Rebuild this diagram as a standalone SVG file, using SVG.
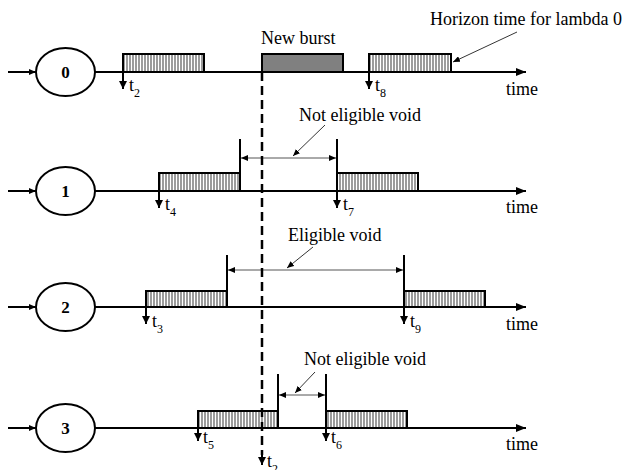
<svg xmlns="http://www.w3.org/2000/svg" width="624" height="470" viewBox="0 0 624 470">
<style>
.ax{stroke:#000;stroke-width:2;fill:none}
.nd{stroke:#000;stroke-width:2;fill:#fff}
.nl{font-family:"Liberation Serif",serif;font-size:17px;font-weight:bold;text-anchor:middle}
.tx{font-family:"Liberation Serif",serif;font-size:18px;fill:#000}
.sb{font-size:12px}
.hb{fill:url(#hatch);stroke:#000;stroke-width:2}
.bar{stroke:#000;stroke-width:2}
.dim{stroke:#555;stroke-width:1;fill:none}
.ptr{stroke:#000;stroke-width:0.8;fill:none}
</style>
<defs>
<pattern id="hatch" patternUnits="userSpaceOnUse" width="3" height="10">
<rect width="3" height="10" fill="#fff"/>
<line x1="1" y1="0" x2="1" y2="10" stroke="#666" stroke-width="1.3"/>
</pattern>
<marker id="ah" markerWidth="10" markerHeight="8" refX="10" refY="4" orient="auto" markerUnits="userSpaceOnUse">
<path d="M0,0 L10,4 L0,8 Z" fill="#000"/>
</marker>
<marker id="sm" markerWidth="7" markerHeight="6" refX="7" refY="3" orient="auto" markerUnits="userSpaceOnUse">
<path d="M0,0 L7,3 L0,6 Z" fill="#000"/>
</marker>
<marker id="dn" markerWidth="8" markerHeight="8" refX="8" refY="4" orient="auto" markerUnits="userSpaceOnUse">
<path d="M0,0 L8,4 L0,8 Z" fill="#000"/>
</marker>
</defs>

<g id="connectors">
<line class="ax" x1="8" y1="72" x2="36" y2="72" marker-end="url(#sm)"/>
<line class="ax" x1="95" y1="72" x2="526" y2="72" marker-end="url(#ah)"/>
<line class="ax" x1="8" y1="191" x2="36" y2="191" marker-end="url(#sm)"/>
<line class="ax" x1="95" y1="191" x2="526" y2="191" marker-end="url(#ah)"/>
<line class="ax" x1="8" y1="307" x2="36" y2="307" marker-end="url(#sm)"/>
<line class="ax" x1="95" y1="307" x2="526" y2="307" marker-end="url(#ah)"/>
<line class="ax" x1="8" y1="428" x2="36" y2="428" marker-end="url(#sm)"/>
<line class="ax" x1="95" y1="428" x2="526" y2="428" marker-end="url(#ah)"/>
</g>

<g id="node0">
<ellipse class="nd" cx="65.5" cy="72" rx="29.5" ry="24"/>
<text class="nl" x="65.5" y="78">0</text>
</g>
<g id="node1">
<ellipse class="nd" cx="65.5" cy="191" rx="29.5" ry="24"/>
<text class="nl" x="65.5" y="197">1</text>
</g>
<g id="node2">
<ellipse class="nd" cx="65.5" cy="307" rx="29.5" ry="24"/>
<text class="nl" x="65.5" y="313">2</text>
</g>
<g id="node3">
<ellipse class="nd" cx="65.5" cy="428" rx="29.5" ry="24"/>
<text class="nl" x="65.5" y="434">3</text>
</g>

<g id="row0">
<rect class="hb" x="123" y="54" width="81" height="18"/>
<rect x="262" y="54" width="81" height="18" fill="#808080" stroke="#000" stroke-width="2"/>
<rect class="hb" x="369" y="54" width="82" height="18"/>
<line class="ax" x1="123" y1="72" x2="123" y2="89" marker-end="url(#dn)"/>
<line class="ax" x1="369" y1="72" x2="369" y2="89" marker-end="url(#dn)"/>
<text class="tx" x="129" y="91">t<tspan class="sb" dy="6">2</tspan></text>
<text class="tx" x="375" y="91">t<tspan class="sb" dy="6">8</tspan></text>
<text class="tx" x="506" y="95">time</text>
<text class="tx" x="261" y="44">New burst</text>
<text class="tx" x="430" y="25">Horizon time for lambda 0</text>
<line class="ptr" x1="517" y1="32" x2="453" y2="62" marker-end="url(#sm)"/>
</g>

<g id="row1">
<rect class="hb" x="159" y="173" width="81" height="18"/>
<rect class="hb" x="337" y="173" width="81" height="18"/>
<line class="bar" x1="240" y1="139" x2="240" y2="191"/>
<line class="bar" x1="337" y1="139" x2="337" y2="191"/>
<line class="dim" x1="288" y1="158" x2="241" y2="158" marker-end="url(#sm)"/>
<line class="dim" x1="288" y1="158" x2="336" y2="158" marker-end="url(#sm)"/>
<line class="ax" x1="159" y1="191" x2="159" y2="208" marker-end="url(#dn)"/>
<line class="ax" x1="337" y1="191" x2="337" y2="208" marker-end="url(#dn)"/>
<text class="tx" x="165" y="210">t<tspan class="sb" dy="6">4</tspan></text>
<text class="tx" x="343" y="210">t<tspan class="sb" dy="6">7</tspan></text>
<text class="tx" x="506" y="213">time</text>
<text class="tx" x="299" y="121">Not eligible void</text>
<line class="ptr" x1="325" y1="125" x2="293" y2="156" marker-end="url(#sm)"/>
</g>

<g id="row2">
<rect class="hb" x="146" y="291" width="81" height="16"/>
<rect class="hb" x="404" y="291" width="81" height="16"/>
<line class="bar" x1="227" y1="255" x2="227" y2="307"/>
<line class="bar" x1="404" y1="255" x2="404" y2="307"/>
<line class="dim" x1="315" y1="270" x2="228" y2="270" marker-end="url(#sm)"/>
<line class="dim" x1="315" y1="270" x2="403" y2="270" marker-end="url(#sm)"/>
<line class="ax" x1="146" y1="307" x2="146" y2="324" marker-end="url(#dn)"/>
<line class="ax" x1="404" y1="307" x2="404" y2="324" marker-end="url(#dn)"/>
<text class="tx" x="152" y="327">t<tspan class="sb" dy="6">3</tspan></text>
<text class="tx" x="410" y="327">t<tspan class="sb" dy="6">9</tspan></text>
<text class="tx" x="506" y="330">time</text>
<text class="tx" x="288" y="241">Eligible void</text>
<line class="ptr" x1="313" y1="247" x2="287" y2="268" marker-end="url(#sm)"/>
</g>

<g id="row3">
<rect class="hb" x="198" y="411" width="80" height="17"/>
<rect class="hb" x="326" y="411" width="81" height="17"/>
<line class="bar" x1="278" y1="374" x2="278" y2="428"/>
<line class="bar" x1="326" y1="374" x2="326" y2="428"/>
<line class="dim" x1="302" y1="395" x2="279" y2="395" marker-end="url(#sm)"/>
<line class="dim" x1="302" y1="395" x2="325" y2="395" marker-end="url(#sm)"/>
<line class="ax" x1="198" y1="428" x2="198" y2="441" marker-end="url(#dn)"/>
<line class="ax" x1="326" y1="428" x2="326" y2="441" marker-end="url(#dn)"/>
<text class="tx" x="203" y="443">t<tspan class="sb" dy="6">5</tspan></text>
<text class="tx" x="331" y="443">t<tspan class="sb" dy="6">6</tspan></text>
<text class="tx" x="506" y="450">time</text>
<text class="tx" x="304" y="365">Not eligible void</text>
<line class="ptr" x1="315" y1="372" x2="295" y2="393" marker-end="url(#sm)"/>
</g>

<g id="newburst-line">
<line x1="262" y1="72" x2="262" y2="455" stroke="#000" stroke-width="2.5" stroke-dasharray="9,5"/>
<line x1="262" y1="452" x2="262" y2="465" stroke="#000" stroke-width="2" marker-end="url(#dn)"/>
<text class="tx" x="267" y="467">t<tspan class="sb" dy="6">2</tspan></text>
</g>
</svg>
